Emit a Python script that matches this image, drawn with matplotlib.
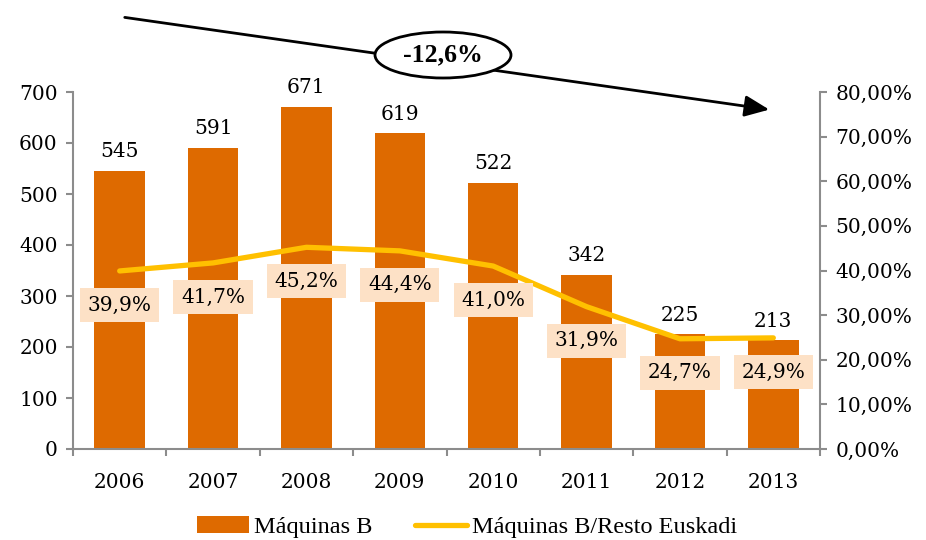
import matplotlib.pyplot as plt
from matplotlib.patches import Ellipse, FancyArrowPatch
from matplotlib.ticker import FuncFormatter
import numpy as np

years = ["2006", "2007", "2008", "2009", "2010", "2011", "2012", "2013"]
maquinas_b = [545, 591, 671, 619, 522, 342, 225, 213]
ratio_resto = [39.9, 41.7, 45.2, 44.4, 41.0, 31.9, 24.7, 24.9]
variacion = "-12,6%"

bar_color = "#DE6A00"
line_color = "#FFC000"
box_color = "#FDE1C6"
axis_color = "#8C8C8C"
serif = "DejaVu Serif"
fs = 14.5

plt.rcParams["font.family"] = serif

fig = plt.figure(figsize=(9.26, 5.4), dpi=100)
ax = fig.add_axes([73 / 926, 1 - 449 / 540, 747 / 926, 357 / 540])
ax2 = ax.twinx()

x = np.arange(len(years))
bars = ax.bar(x, maquinas_b, width=0.54, color=bar_color, zorder=2,
              label="Máquinas B")
for xi, v in zip(x, maquinas_b):
    ax.annotate(str(v), (xi, v), xytext=(0, 7), textcoords="offset points",
                ha="center", va="bottom", fontsize=fs)

ax.set_xlim(-0.5, len(years) - 0.5)
ax.set_ylim(0, 700)
ax.set_yticks(range(0, 701, 100))
ax.set_xticks(x)
ax.set_xticklabels(years, fontsize=fs)
ax.set_xticks(np.arange(-0.5, len(years), 1), minor=True)
ax.tick_params(axis="x", which="major", length=0, pad=17)
ax.tick_params(axis="x", which="minor", length=5, color=axis_color, width=1.5)
ax.tick_params(axis="y", length=5, color=axis_color, width=1.5,
               labelsize=fs, pad=6)

ratio = [r / 100 for r in ratio_resto]
line, = ax2.plot(x, ratio, color=line_color, lw=3.8, zorder=3,
                 solid_capstyle="round", label="Máquinas B/Resto Euskadi")
for xi, r, txt in zip(x, ratio, ratio_resto):
    ax2.annotate(f"{txt:.1f}%".replace(".", ","), (xi, r),
                 xytext=(0, -24.5), textcoords="offset points",
                 ha="center", va="center", fontsize=fs,
                 bbox=dict(boxstyle="square,pad=0.38", fc=box_color, ec="none"))
ax2.set_ylim(0, 0.8)
ax2.set_yticks(np.arange(0, 0.81, 0.1))
ax2.yaxis.set_major_formatter(
    FuncFormatter(lambda v, p: f"{v * 100:.2f}%".replace(".", ",")))
ax2.tick_params(axis="y", length=5, color=axis_color, width=1.5,
                labelsize=fs, pad=6)

for a in (ax, ax2):
    a.spines["top"].set_visible(False)
    for s in ("left", "right", "bottom"):
        a.spines[s].set_color(axis_color)
        a.spines[s].set_linewidth(1.5)
ax.spines["right"].set_visible(False)
ax2.spines["left"].set_visible(False)
ax2.spines["bottom"].set_visible(False)

fig.legend([bars, line], ["Máquinas B", "Máquinas B/Resto Euskadi"],
           loc="center left", bbox_to_anchor=(180 / 926, 1 - 527 / 540),
           ncol=2, frameon=False, handlelength=2.15, handleheight=0.7,
           handletextpad=0.2, columnspacing=1.75, borderpad=0.2,
           prop={"family": "Liberation Serif", "size": 17.5})

# flecha de tendencia
arrow = FancyArrowPatch((122 / 926, 1 - 17 / 540), (772 / 926, 1 - 110 / 540),
                        transform=fig.transFigure,
                        arrowstyle="-|>,head_length=15,head_width=6.5",
                        mutation_scale=1, color="black", lw=2, zorder=5)
fig.add_artist(arrow)
ell = Ellipse((443 / 926, 1 - 55 / 540), 136 / 926, 46 / 540,
              transform=fig.transFigure, fc="white", ec="black", lw=2,
              zorder=6)
fig.add_artist(ell)
fig.text(443 / 926, 1 - 55 / 540, variacion, ha="center", va="center",
         fontsize=18.5, fontweight="bold", family="Liberation Serif", zorder=7)

fig.savefig("out.png", dpi=100)
